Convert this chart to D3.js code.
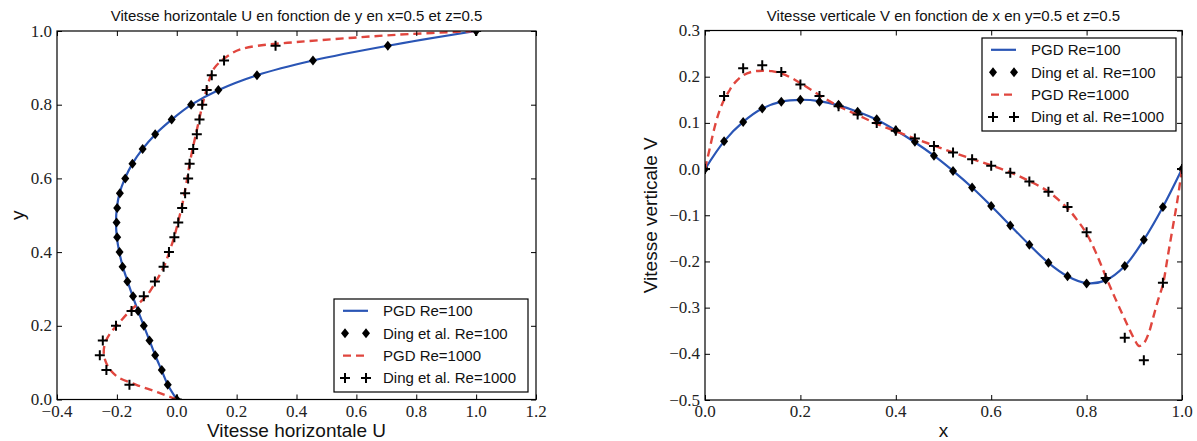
<!DOCTYPE html>
<html><head><meta charset="utf-8">
<script src="https://cdn.jsdelivr.net/npm/d3@7"></script>
<style>body{margin:0;background:#fff}svg{display:block}</style>
</head><body>
<svg id="c" width="1197" height="441"></svg>
<script>
// ---------- data ----------
const seriesNames = ["PGD Re=100", "Ding et al. Re=100", "PGD Re=1000", "Ding et al. Re=1000"];

// Left panel: U as a function of y (x=0.5, z=0.5)
const leftTitle = "Vitesse horizontale U en fonction de y en x=0.5 et z=0.5";
const leftXLabel = "Vitesse horizontale U";
const leftYLabel = "y";
const leftXTicks = [-0.4, -0.2, 0.0, 0.2, 0.4, 0.6, 0.8, 1.0, 1.2];
const leftYTicks = [0.0, 0.2, 0.4, 0.6, 0.8, 1.0];

const dingY = [0, 0.04, 0.08, 0.12, 0.16, 0.20, 0.24, 0.28, 0.32, 0.36, 0.40, 0.44, 0.48,
  0.52, 0.56, 0.60, 0.64, 0.68, 0.72, 0.76, 0.80, 0.84, 0.88, 0.92, 0.96, 1.0];
const dingRe100U = [0.0, -0.030, -0.050, -0.072, -0.091, -0.110, -0.129, -0.146, -0.165, -0.181,
  -0.191, -0.199, -0.201, -0.199, -0.190, -0.172, -0.148, -0.114, -0.072, -0.017,
  0.048, 0.139, 0.268, 0.455, 0.705, 1.0];
const dingRe1000U = [0.0, -0.158, -0.235, -0.257, -0.247, -0.203, -0.151, -0.110, -0.073, -0.044,
  -0.026, -0.008, 0.005, 0.018, 0.028, 0.038, 0.043, 0.055, 0.067, 0.076,
  0.085, 0.100, 0.117, 0.158, 0.330, 1.0];

const pgdRe100Y = [0, 0.04, 0.08, 0.12, 0.16, 0.20, 0.24, 0.28, 0.32, 0.36, 0.40, 0.44, 0.48,
  0.52, 0.56, 0.60, 0.64, 0.68, 0.72, 0.76, 0.80, 0.84, 0.88, 0.92, 0.96, 1.0];
const pgdRe100U = [0.0, -0.030, -0.051, -0.072, -0.091, -0.110, -0.129, -0.147, -0.164, -0.180,
  -0.192, -0.200, -0.203, -0.200, -0.191, -0.173, -0.148, -0.114, -0.071, -0.016,
  0.049, 0.140, 0.268, 0.455, 0.705, 1.0];
const pgdRe1000Y = [0, 0.02, 0.04, 0.06, 0.08, 0.10, 0.12, 0.14, 0.16, 0.18, 0.20, 0.24, 0.28,
  0.32, 0.36, 0.40, 0.44, 0.48, 0.52, 0.56, 0.60, 0.64, 0.68, 0.72, 0.76, 0.80, 0.84,
  0.88, 0.90, 0.92, 0.94, 0.95, 0.96, 0.97, 0.98, 0.99, 1.0];
const pgdRe1000U = [0.0, -0.065, -0.135, -0.195, -0.222, -0.236, -0.243, -0.243, -0.236, -0.222,
  -0.201, -0.157, -0.102, -0.070, -0.043, -0.025, -0.009, 0.004, 0.016, 0.026, 0.035,
  0.043, 0.053, 0.064, 0.075, 0.086, 0.099, 0.114, 0.126, 0.150, 0.185, 0.212, 0.270,
  0.400, 0.560, 0.740, 1.0];

// Right panel: V as a function of x (y=0.5, z=0.5)
const rightTitle = "Vitesse verticale V en fonction de x en y=0.5 et z=0.5";
const rightXLabel = "x";
const rightYLabel = "Vitesse verticale V";
const rightXTicks = [0.0, 0.2, 0.4, 0.6, 0.8, 1.0];
const rightYTicks = [-0.5, -0.4, -0.3, -0.2, -0.1, 0.0, 0.1, 0.2, 0.3];

const dingX = [0, 0.04, 0.08, 0.12, 0.16, 0.20, 0.24, 0.28, 0.32, 0.36, 0.40, 0.44, 0.48,
  0.52, 0.56, 0.60, 0.64, 0.68, 0.72, 0.76, 0.80, 0.84, 0.88, 0.92, 0.96, 1.0];
const dingRe100V = [0.0, 0.060, 0.102, 0.131, 0.146, 0.150, 0.146, 0.139, 0.124, 0.108,
  0.084, 0.059, 0.029, -0.004, -0.040, -0.080, -0.122, -0.164, -0.203, -0.232,
  -0.248, -0.239, -0.210, -0.153, -0.082, 0.0];
const dingRe1000V = [0.0, 0.158, 0.218, 0.225, 0.210, 0.183, 0.158, 0.136, 0.118, 0.100,
  0.083, 0.066, 0.050, 0.036, 0.021, 0.007, -0.008, -0.027, -0.049, -0.082,
  -0.137, -0.236, -0.365, -0.414, -0.246, 0.0];

const pgdRe100X = [0, 0.04, 0.08, 0.12, 0.16, 0.20, 0.24, 0.28, 0.32, 0.36, 0.40, 0.44, 0.48,
  0.52, 0.56, 0.60, 0.64, 0.68, 0.72, 0.76, 0.80, 0.84, 0.88, 0.92, 0.96, 1.0];
const pgdRe100V = [0.0, 0.060, 0.102, 0.131, 0.146, 0.150, 0.147, 0.138, 0.124, 0.107,
  0.084, 0.058, 0.029, -0.004, -0.040, -0.080, -0.122, -0.164, -0.203, -0.232,
  -0.247, -0.241, -0.210, -0.153, -0.082, 0.0];
const pgdRe1000X = [0, 0.01, 0.02, 0.03, 0.04, 0.05, 0.06, 0.08, 0.10, 0.12, 0.14, 0.16, 0.18,
  0.20, 0.24, 0.28, 0.32, 0.36, 0.40, 0.44, 0.48, 0.52, 0.56, 0.60, 0.64, 0.68, 0.72,
  0.76, 0.78, 0.80, 0.82, 0.84, 0.86, 0.88, 0.90, 0.91, 0.92, 0.93, 0.94, 0.95, 0.96,
  0.97, 0.98, 0.99, 1.0];
const pgdRe1000V = [0.0, 0.045, 0.090, 0.125, 0.150, 0.168, 0.184, 0.203, 0.211, 0.213, 0.212,
  0.207, 0.198, 0.186, 0.160, 0.136, 0.117, 0.098, 0.082, 0.066, 0.051, 0.036, 0.022,
  0.008, -0.007, -0.026, -0.049, -0.085, -0.110, -0.140, -0.182, -0.232, -0.280, -0.325,
  -0.368, -0.383, -0.377, -0.356, -0.320, -0.283, -0.250, -0.190, -0.130, -0.070, 0.0];

// ---------- styles ----------
const BLUE = "#2a55b5", RED = "#e0463e";
const SANS = "'Liberation Sans', Arial, Helvetica, sans-serif";
const SERIF = "'Liberation Serif', 'Times New Roman', serif";

const svg = d3.select("#c");
const fmt = d3.format(".1f");

function diamond(sel) {
  sel.append("path").attr("d", "M0,-5L4,0L0,5L-4,0Z").attr("fill", "#000");
}
function plus(sel) {
  sel.append("path").attr("d", "M-5,0H5M0,-5V5").attr("stroke", "#000").attr("stroke-width", 2).attr("fill", "none");
}

function panel(cfg, idx) {
  const x = d3.scaleLinear().domain(cfg.xDomain).range([cfg.left, cfg.right]);
  const y = d3.scaleLinear().domain(cfg.yDomain).range([cfg.bottom, cfg.top]);
  const g = svg.append("g");
  const clipId = "clip" + idx;
  svg.append("defs").append("clipPath").attr("id", clipId)
    .append("rect").attr("x", cfg.left).attr("y", cfg.top)
    .attr("width", cfg.right - cfg.left).attr("height", cfg.bottom - cfg.top);

  const plot = g.append("g").attr("clip-path", `url(#${clipId})`);
  const line = d3.line().x(d => x(d[0])).y(d => y(d[1])).curve(d3.curveCatmullRom.alpha(0.5));

  // PGD Re=100
  plot.append("path").datum(cfg.pgd100).attr("d", line)
    .attr("fill", "none").attr("stroke", BLUE).attr("stroke-width", 2.2);
  // Ding Re=100
  plot.selectAll(".dia").data(cfg.ding100).enter().append("g")
    .attr("transform", d => `translate(${x(d[0])},${y(d[1])})`).call(diamond);
  // PGD Re=1000
  plot.append("path").datum(cfg.pgd1000).attr("d", line)
    .attr("fill", "none").attr("stroke", RED).attr("stroke-width", 2.4)
    .attr("stroke-dasharray", "8,5");
  // Ding Re=1000
  plot.selectAll(".pl").data(cfg.ding1000).enter().append("g")
    .attr("transform", d => `translate(${x(d[0])},${y(d[1])})`).call(plus);

  // axes (inward ticks on all sides)
  const tl = 5;
  const axB = d3.axisBottom(x).tickValues(cfg.xTicks).tickSize(tl).tickFormat("");
  const axT = d3.axisTop(x).tickValues(cfg.xTicks).tickSize(tl).tickFormat("");
  const axL = d3.axisLeft(y).tickValues(cfg.yTicks).tickSize(tl).tickFormat("");
  const axR = d3.axisRight(y).tickValues(cfg.yTicks).tickSize(tl).tickFormat("");
  g.append("g").attr("transform", `translate(0,${cfg.bottom - tl})`).call(axB).select(".domain").remove();
  g.append("g").attr("transform", `translate(0,${cfg.top + tl})`).call(axT).select(".domain").remove();
  g.append("g").attr("transform", `translate(${cfg.left + tl},0)`).call(axL).select(".domain").remove();
  g.append("g").attr("transform", `translate(${cfg.right - tl},0)`).call(axR).select(".domain").remove();
  g.selectAll(".tick line").attr("stroke", "#000").attr("stroke-width", 1);

  g.append("rect").attr("x", cfg.left).attr("y", cfg.top)
    .attr("width", cfg.right - cfg.left).attr("height", cfg.bottom - cfg.top)
    .attr("fill", "none").attr("stroke", "#000").attr("stroke-width", 1.2);

  // tick labels
  g.selectAll(".xl").data(cfg.xTicks).enter().append("text")
    .attr("x", d => x(d)).attr("y", cfg.bottom + 17)
    .attr("text-anchor", "middle").attr("font-family", SERIF).attr("font-size", 17)
    .attr("fill", "#222").text(d => fmt(d));
  g.selectAll(".yl").data(cfg.yTicks).enter().append("text")
    .attr("x", cfg.left - 5).attr("y", d => y(d)).attr("dy", "0.33em")
    .attr("text-anchor", "end").attr("font-family", SERIF).attr("font-size", 17)
    .attr("fill", "#222").text(d => fmt(d));

  // title & labels
  g.append("text").attr("x", (cfg.left + cfg.right) / 2).attr("y", 21)
    .attr("text-anchor", "middle").attr("font-family", SANS).attr("font-size", 15)
    .attr("fill", "#111").text(cfg.title);
  g.append("text").attr("x", (cfg.left + cfg.right) / 2).attr("y", 437)
    .attr("text-anchor", "middle").attr("font-family", SANS).attr("font-size", 19)
    .attr("fill", "#111").text(cfg.xLabel);
  g.append("text").attr("transform", `translate(${cfg.yLabelX},${(cfg.top + cfg.bottom) / 2}) rotate(-90)`)
    .attr("dy", "0.35em").attr("text-anchor", "middle").attr("font-family", SANS).attr("font-size", 19)
    .attr("fill", "#111").text(cfg.yLabel);

  // legend
  const L = cfg.legend;
  const lg = g.append("g").attr("transform", `translate(${L.x},${L.y})`);
  lg.append("rect").attr("width", 194).attr("height", 93).attr("fill", "#fff")
    .attr("stroke", "#000").attr("stroke-width", 1.2);
  seriesNames.forEach((name, i) => {
    const cy = 11.8 + i * 22.4;
    if (i === 0) lg.append("line").attr("x1", 9).attr("x2", 34).attr("y1", cy).attr("y2", cy)
      .attr("stroke", BLUE).attr("stroke-width", 2.2);
    if (i === 2) lg.append("line").attr("x1", 9).attr("x2", 34).attr("y1", cy).attr("y2", cy)
      .attr("stroke", RED).attr("stroke-width", 2.4).attr("stroke-dasharray", "8,5");
    if (i === 1) { [11, 32].forEach(px => lg.append("g").attr("transform", `translate(${px},${cy})`).call(diamond)); }
    if (i === 3) { [11, 32].forEach(px => lg.append("g").attr("transform", `translate(${px},${cy})`).call(plus)); }
    lg.append("text").attr("x", 49).attr("y", cy).attr("dy", "0.36em")
      .attr("font-family", SANS).attr("font-size", 15).attr("fill", "#111").text(name);
  });
}

panel({
  left: 57, right: 536, top: 31, bottom: 399.5,
  xDomain: [-0.4, 1.2], yDomain: [0, 1],
  xTicks: leftXTicks, yTicks: leftYTicks,
  title: leftTitle, xLabel: leftXLabel, yLabel: leftYLabel, yLabelX: 17,
  pgd100: pgdRe100Y.map((v, i) => [pgdRe100U[i], v]),
  ding100: dingY.map((v, i) => [dingRe100U[i], v]),
  pgd1000: pgdRe1000Y.map((v, i) => [pgdRe1000U[i], v]),
  ding1000: dingY.map((v, i) => [dingRe1000U[i], v]),
  legend: { x: 334, y: 299 }
}, 0);

panel({
  left: 705, right: 1182, top: 30.5, bottom: 400,
  xDomain: [0, 1], yDomain: [-0.5, 0.3],
  xTicks: rightXTicks, yTicks: rightYTicks,
  title: rightTitle, xLabel: rightXLabel, yLabel: rightYLabel, yLabelX: 650,
  pgd100: pgdRe100X.map((v, i) => [v, pgdRe100V[i]]),
  ding100: dingX.map((v, i) => [v, dingRe100V[i]]),
  pgd1000: pgdRe1000X.map((v, i) => [v, pgdRe1000V[i]]),
  ding1000: dingX.map((v, i) => [v, dingRe1000V[i]]),
  legend: { x: 982, y: 38 }
}, 1);
</script>
</body></html>
